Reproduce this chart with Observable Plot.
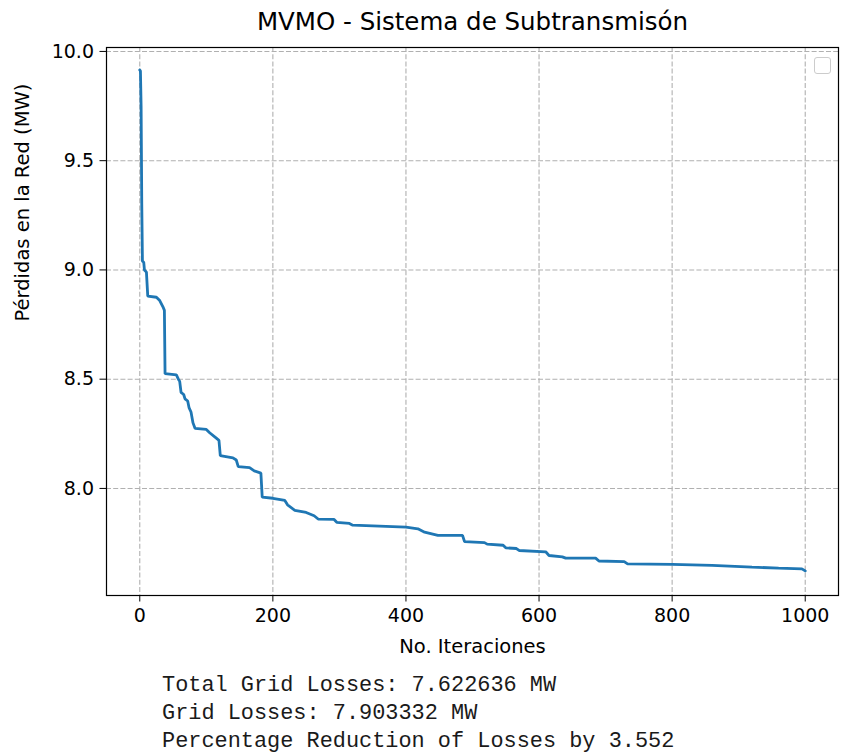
<!DOCTYPE html>
<html>
<head>
<meta charset="utf-8">
<script src="https://cdn.jsdelivr.net/npm/d3@7"></script>
<script src="https://cdn.jsdelivr.net/npm/@observablehq/plot@0.6"></script>
<style>
  html, body { margin: 0; padding: 0; background: white; }
  #wrap { position: relative; width: 841px; height: 753px; overflow: hidden; }
  #chart { position: absolute; left: 0; top: 0; }
  #legendbox { position: absolute; left: 814px; top: 57px; width: 15px; height: 15px;
    border: 1px solid #cccccc; border-radius: 3px; background: rgba(255,255,255,0.8); }
  #out { position: absolute; left: 162px; top: 672px; margin: 0;
    font-family: "Liberation Mono", monospace; font-size: 21.9px; line-height: 28px; color: #1a1a1a; white-space: pre; }
</style>
</head>
<body>
<div id="wrap">
  <div id="chart"></div>
  <div id="legendbox"></div>
  <pre id="out"></pre>
</div>
<script>
const iterations = [0, 1, 2, 3, 4, 6, 7, 10, 12, 25, 30, 35, 37, 38, 55, 58, 60, 62, 66, 68, 72, 74, 77, 80, 83, 100, 105, 115, 119, 121, 140, 145, 148, 165, 172, 182, 184, 200, 218, 222, 233, 250, 262, 268, 292, 296, 315, 320, 400, 418, 428, 448, 485, 488, 518, 522, 546, 550, 566, 570, 610, 615, 635, 640, 685, 690, 728, 733, 800, 860, 920, 960, 995, 1000];
const losses = [9.915, 9.91, 9.75, 9.30, 9.04, 9.035, 9.0, 8.99, 8.88, 8.875, 8.86, 8.83, 8.815, 8.525, 8.52, 8.50, 8.49, 8.44, 8.43, 8.41, 8.40, 8.37, 8.35, 8.30, 8.275, 8.27, 8.255, 8.23, 8.22, 8.15, 8.14, 8.13, 8.10, 8.095, 8.08, 8.07, 7.96, 7.955, 7.945, 7.925, 7.90, 7.89, 7.875, 7.86, 7.858, 7.845, 7.84, 7.832, 7.823, 7.815, 7.80, 7.785, 7.785, 7.757, 7.752, 7.745, 7.74, 7.728, 7.725, 7.716, 7.71, 7.693, 7.687, 7.681, 7.681, 7.668, 7.665, 7.655, 7.652, 7.648, 7.64, 7.635, 7.632, 7.6226];
const xTicks = [0, 200, 400, 600, 800, 1000];
const yTicks = [8.0, 8.5, 9.0, 9.5, 10.0];
const titleText = "MVMO - Sistema de Subtransmisón";
const xLabel = "No. Iteraciones";
const yLabel = "Pérdidas en la Red (MW)";
const outputLines = [
  "Total Grid Losses: 7.622636 MW",
  "Grid Losses: 7.903332 MW",
  "Percentage Reduction of Losses by 3.552"
];

const data = iterations.map((it, i) => ({it, val: losses[i]}));

const chart = Plot.plot({
  width: 841,
  height: 660,
  marginLeft: 106,
  marginRight: 3,
  marginTop: 47,
  marginBottom: 65,
  style: {fontFamily: "DejaVu Sans", fontSize: "19px", color: "#000", background: "white", overflow: "visible"},
  x: {domain: [-50, 1050]},
  y: {domain: [7.51, 10.018]},
  marks: [
    Plot.gridX(xTicks, {stroke: "#b0b0b0", strokeOpacity: 1, strokeWidth: 1.1, strokeDasharray: "5,2.2"}),
    Plot.gridY(yTicks, {stroke: "#b0b0b0", strokeOpacity: 1, strokeWidth: 1.1, strokeDasharray: "5,2.2"}),
    Plot.line(data, {x: "it", y: "val", stroke: "#1f77b4", strokeWidth: 2.8, strokeLinejoin: "miter"}),
    Plot.frame({stroke: "black", strokeWidth: 1.2}),
    Plot.axisX(xTicks, {tickSize: 6.5, tickPadding: 6, tickFormat: d => String(d), label: null, fontSize: 19}),
    Plot.axisY(yTicks, {tickSize: 6.5, tickPadding: 6, tickFormat: d => d.toFixed(1), label: null, fontSize: 19}),
    Plot.text([titleText], {frameAnchor: "top", dy: -25, fontSize: 24.5, lineAnchor: "middle"}),
    Plot.text([xLabel], {frameAnchor: "bottom", dy: 51, fontSize: 19.5, lineAnchor: "middle"}),
    Plot.text([yLabel], {frameAnchor: "left", dx: -84, rotate: -90, fontSize: 19.5, lineAnchor: "middle"})
  ]
});
document.getElementById("chart").appendChild(chart);
document.getElementById("out").textContent = outputLines.join("\n");
</script>
</body>
</html>
